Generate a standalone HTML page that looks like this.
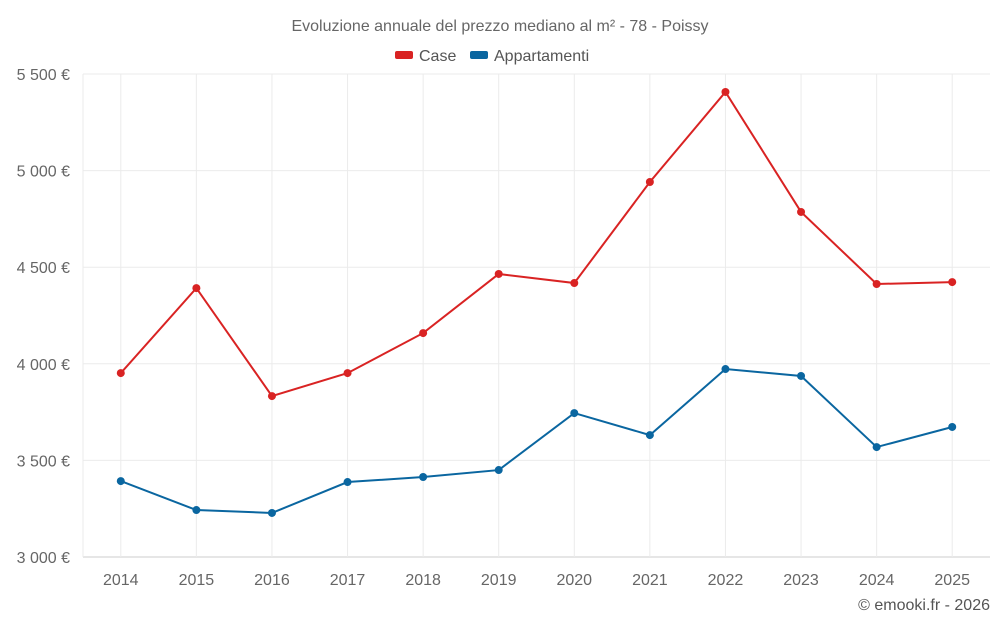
<!DOCTYPE html>
<html><head><meta charset="utf-8">
<style>
html,body{margin:0;padding:0;background:#fff;width:1000px;height:625px;overflow:hidden;font-family:"Liberation Sans",sans-serif;}
</style></head>
<body>
<svg id="chart" width="1000" height="625" xmlns="http://www.w3.org/2000/svg" font-family="Liberation Sans, sans-serif">
<text x="500" y="31" text-anchor="middle" font-size="16" fill="#666">Evoluzione annuale del prezzo mediano al m² - 78 - Poissy</text>
<g><rect x="395" y="51" width="18" height="8" rx="2" fill="#d92323"/><text x="419" y="61" font-size="16" fill="#555">Case</text></g>
<g><rect x="470" y="51" width="18" height="8" rx="2" fill="#0a66a0"/><text x="494" y="61" font-size="16" fill="#555">Appartamenti</text></g>
<g id="grid"></g><g id="axes"></g><g id="series"></g>
<text x="990" y="610" text-anchor="end" font-size="16" fill="#555">© emooki.fr - 2026</text>
</svg>
<script>
const categories=["2014","2015","2016","2017","2018","2019","2020","2021","2022","2023","2024","2025"];
const caseValues=[3952,4392,3833,3952,4159,4465,4418,4941,5407,4786,4413,4423];
const apptValues=[3393,3243,3228,3388,3414,3450,3745,3631,3973,3937,3569,3673];
const yTicks=[3000,3500,4000,4500,5000,5500];
const yTickLabels=["3 000 €","3 500 €","4 000 €","4 500 €","5 000 €","5 500 €"];
const NS="http://www.w3.org/2000/svg";
const L=83,R=990,T=74,B=557;
const step=(R-L)/categories.length;
const x=i=>L+step*(i+0.5);
const y=v=>B-(v-3000)/2500*(B-T);
function mk(tag,attrs,parent){const e=document.createElementNS(NS,tag);for(const k in attrs)e.setAttribute(k,attrs[k]);parent.appendChild(e);return e;}
const grid=document.getElementById('grid'),axes=document.getElementById('axes'),series=document.getElementById('series');
yTicks.forEach((t,i)=>{
 const ln=mk('line',{x1:L,x2:R,y1:y(t),y2:y(t),stroke:i===0?'#ccc':'#ebebeb'},grid);
 
 
 const tx=mk('text',{x:70,y:y(t)+6,'text-anchor':'end','font-size':16,fill:'#666'},axes);
 tx.textContent=yTickLabels[i];
 
 
});
const edge=mk('line',{x1:L,x2:L,y1:T,y2:B,stroke:'#ebebeb'},grid);


categories.forEach((c,i)=>{
 const ln=mk('line',{x1:x(i),x2:x(i),y1:T,y2:B,stroke:'#ebebeb'},grid);
 
 
 const tx=mk('text',{x:x(i),y:585,'text-anchor':'middle','font-size':16,fill:'#666'},axes);
 tx.textContent=c;
 
 
});
function draw(vals,color,name){
 const p=mk('polyline',{points:vals.map((v,i)=>x(i)+','+y(v)).join(' '),fill:'none',stroke:color,'stroke-width':2},series);
 
 
 vals.forEach((v,i)=>{
  const c=mk('circle',{cx:x(i),cy:y(v),r:4,fill:color},series);
  
  
 });
}
draw(caseValues,'#d92323','case');
draw(apptValues,'#0a66a0','appartamenti');
</script>
</body></html>
